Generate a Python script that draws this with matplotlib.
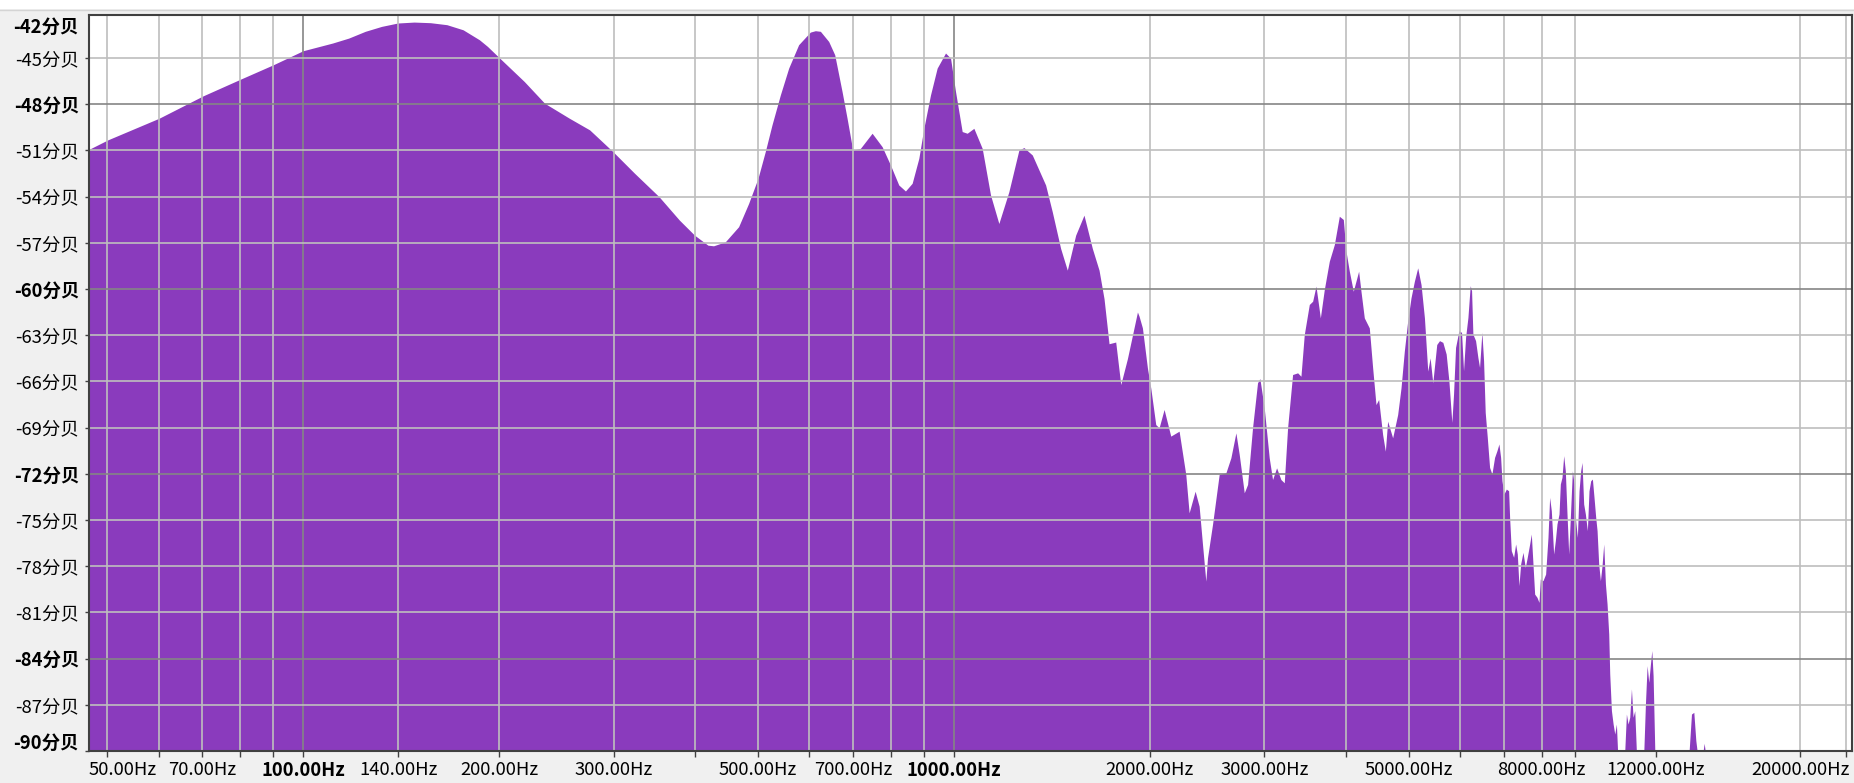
import matplotlib
matplotlib.use('Agg')
import matplotlib.pyplot as plt
from matplotlib.lines import Line2D
from matplotlib.ticker import NullLocator

# 频谱数据 (频率 Hz, 电平 dB)
freq_hz = [
    46.9, 50.1, 60.1, 70.2, 80.1, 90.0, 100, 111.0, 117.5, 124.6, 132.0, 139.8,
    148.1, 156.9, 166.3, 176.1, 186.6, 192.0,
    200, 218.7, 235.0, 256.4, 275.6, 299.2, 323.1, 352.3, 378.6, 399.5, 418.9,
    427.3, 445.4, 466.9, 483.7, 500, 513.1, 525.4, 541.2, 557.4, 577.4, 591.2,
    601.8, 612.6, 623.6, 642.2, 656.0, 673.3, 685.3, 699.2, 718.5, 748.8, 775.8,
    799.0, 822.9, 842.6, 862.8, 883.4, 899.2, 920.7, 942.6, 970.9, 988.3, 1005.9,
    1029.9, 1048.3, 1073.4, 1105.5, 1138.6, 1172.6, 1214.8, 1258.8, 1281.4,
    1319.8, 1383.6, 1416.6, 1459.1, 1494.0, 1538.8, 1584.8, 1632.3, 1671.5,
    1701.3, 1731.8, 1773.1, 1805, 1848.0, 1914.8,
    1925.8, 1948.8, 1983.5, 2007.1, 2043.0, 2067.2, 2104.2, 2154.4, 2219.0,
    2272.0, 2299.0, 2348.4, 2381.9, 2410.6, 2439.0, 2453.6, 2497.3, 2557.0,
    2618.2, 2665.0, 2712.8, 2745.0, 2794.2, 2827.4, 2877.4, 2928.6, 2953.0,
    2998.8, 3052.4, 3088.6, 3133.0, 3181.2, 3219.2, 3257.4, 3315.6, 3375.0,
    3415.0, 3455.6, 3517.4, 3559.4, 3601.6, 3657.6, 3709.2, 3775.6, 3843.2,
    3911.8, 3967.4, 4005.0, 4052.6, 4110.0, 4188.2, 4223.2, 4273.2, 4349.6,
    4401.4, 4453.6, 4495.8, 4559.6, 4603.6, 4641.0, 4724.0, 4808.6, 4866.0,
    4923.4, 4982.0, 5041.0, 5101.6, 5162.2, 5223.4, 5286.4, 5349.0, 5393.6,
    5444.8, 5521.8,
    5576, 5642, 5709, 5764, 5798, 5825, 5860, 5902, 5972, 6028, 6071, 6115,
    6166, 6216, 6246, 6275, 6335, 6387, 6425, 6478, 6517, 6555, 6603, 6657,
    6712, 6776, 6832, 6881, 6922, 6955, 7004, 7063, 7121, 7146, 7188, 7248,
    7300, 7343, 7386, 7430, 7492, 7553, 7598, 7671, 7716, 7762, 7808, 7873,
    7928, 7966, 8041, 8117, 8185, 8233, 8282, 8351, 8401, 8450, 8511, 8551,
    8601, 8653, 8703, 8755, 8808, 8859, 8923, 8976, 9028, 9082, 9136, 9189,
    9233, 9287, 9343, 9409, 9464, 9521, 9578, 9633, 9691, 9738, 9794, 9853,
    9910, 9970, 10030, 10088, 10148, 10184, 10245, 10307, 10367, 10427, 10470,
    10740, 10803, 10866, 10931, 10997, 11060, 11127, 11190, 11490, 11555,
    11624, 11692, 11762, 11819, 11873, 11945, 13487, 13600, 13713, 13811,
    13874, 14172, 14224, 14277, 24000,
]
level_db = [
    -50.92, -50.31, -48.90, -47.45, -46.37, -45.43, -44.52, -44.02, -43.70,
    -43.26, -42.94, -42.72, -42.66, -42.70, -42.83, -43.16, -43.81, -44.24,
    -44.96, -46.52, -47.93, -48.90, -49.66, -51.07,
    -52.48, -54.00, -55.52, -56.50, -57.15,
    -57.19, -56.93, -55.95, -54.44, -52.81, -51.07, -49.34, -47.39, -45.65,
    -44.13, -43.66, -43.31, -43.22, -43.26, -43.92, -44.78, -47.17, -48.90,
    -50.97, -50.86, -49.88, -50.75, -51.94, -53.24, -53.63, -53.13, -51.51,
    -49.56, -47.39, -45.65, -44.67, -45.00, -47.17, -49.77, -49.88, -49.56,
    -50.86, -53.89, -55.74, -53.68, -50.97, -50.81, -51.29, -53.24, -54.98,
    -57.36, -58.77, -56.50, -55.20, -57.36, -58.77, -60.62, -63.55, -63.44,
    -66.2, -64.52, -61.49,
    -61.76, -62.52, -65.12, -66.42, -68.80, -69.01, -67.82, -69.55, -69.23,
    -72.04, -74.53, -73.13, -74.10, -76.59, -78.97, -77.45, -75.29, -72.04,
    -71.94, -70.96, -69.34, -70.74, -73.23, -72.69, -69.01, -66.09, -65.81,
    -67.71, -70.96, -72.37, -71.61, -72.37, -72.58, -69.01, -65.55, -65.44,
    -65.66, -62.95, -61.00, -60.79, -59.81, -61.87, -60.03, -58.19, -57.11,
    -55.27, -55.48, -57.54, -58.84, -60.14, -58.84, -60.14, -61.87, -62.52,
    -65.12, -67.50, -67.17, -69.45, -70.53, -68.58, -69.66, -68.15, -66.42,
    -64.03, -62.09, -60.57, -59.49, -58.62, -59.71, -61.87, -65.33, -64.47,
    -66.09, -63.60,
    -63.35, -63.46, -64.22, -65.95, -67.47, -68.66, -66.82, -63.79, -62.71,
    -62.81, -65.30, -63.14, -61.84, -59.78, -60.11, -62.92, -63.35, -64.44,
    -65.09, -62.81, -64.65, -68.01, -69.63, -71.58, -72.01, -70.93, -70.50,
    -70.06, -70.93, -72.45, -73.31, -72.99, -73.10, -74.83, -76.99, -77.42,
    -76.56, -77.21, -79.26, -77.86, -77.10, -78.07, -77.53, -76.56, -75.91,
    -77.86, -79.81, -80.02, -80.35, -78.83, -78.94, -78.51, -76.13, -73.53,
    -74.39, -77.21, -76.34, -75.26, -74.61, -72.66, -72.23, -70.82, -71.80,
    -74.61, -77.21, -74.83, -71.80, -72.66, -75.04, -76.13, -73.10, -71.80,
    -71.26, -73.96, -74.61, -75.69, -73.10, -72.45, -72.34, -73.53, -74.83,
    -75.69, -77.86, -78.94, -77.97, -76.56, -79.16, -80.45, -82.40, -85.00,
    -87.38, -88.25, -88.90, -88.25, -90.0,
    -90.0, -87.60, -88.25, -87.81, -85.97, -87.81, -87.38, -90.0, -90.0,
    -86.95, -84.46, -85.54, -84.35, -83.48, -85.11, -90.0, -90.0, -87.60,
    -87.49, -89.33, -90.0, -90.0, -89.5, -90.0, -90.0,
]

# 坐标轴刻度
db_ticks = [-87, -84, -81, -78, -75, -72, -69, -66, -63, -60, -57, -54, -51, -48, -45]
db_bold = [-48, -60, -72, -84]
hz_labels = [50, 70, 100, 140, 200, 300, 500, 700, 1000, 2000, 3000, 5000, 8000, 12000, 20000]
hz_bold = [100, 1000]
hz_grid = [50, 60, 70, 80, 90, 100, 140, 200, 300, 400, 500, 600, 700, 800, 900,
           1000, 2000, 3000, 4000, 5000, 6000, 7000, 8000, 9000, 20000, 23500]

FILL = '#8a3bbd'
GRID = '#bebebe'
GRID_MAJOR = '#858585'
FRAME = '#404040'
FONT = ['Noto Sans CJK SC', 'DejaVu Sans']
FS = 13.3

plt.rcParams['font.family'] = FONT

fig = plt.figure(figsize=(18.54, 7.83), dpi=100, facecolor='#f0f0f0')
# 顶部白条
fig.patches.append(plt.Rectangle((0, 1 - 9 / 783), 1, 9 / 783, transform=fig.transFigure,
                                 facecolor='white', edgecolor='none'))
fig.lines.append(Line2D([0, 1], [1 - 9.5 / 783] * 2, transform=fig.transFigure,
                        color='#d4d4d4', lw=1))

ax = fig.add_axes([89 / 1854, 1 - 751 / 783, (1852 - 89) / 1854, (751 - 15) / 783])
ax.set_facecolor('white')
ax.set_xscale('log')
ax.set_xlim(46.875, 24000)
ax.set_ylim(-90, -42.2)

ax.fill_between(freq_hz, level_db, -90, color=FILL, lw=0, zorder=1)

# 网格
for f in hz_grid:
    ax.axvline(f, color=GRID_MAJOR if f in hz_bold else GRID, lw=1.2, zorder=2)
for d in db_ticks:
    ax.axhline(d, color=GRID_MAJOR if d in db_bold else GRID, lw=1.2, zorder=2)

for s in ax.spines.values():
    s.set_color(FRAME)
    s.set_linewidth(1.5)
    s.set_zorder(3)

# y 轴
ax.set_yticks(db_ticks + [-90])
ax.set_yticklabels([f'{d}分贝' for d in db_ticks] + [''])
ax.tick_params(axis='y', length=3, width=1, color=FRAME, pad=4, labelsize=FS)
for lab, d in zip(ax.get_yticklabels(), db_ticks):
    if d in db_bold:
        lab.set_fontweight('bold')
ax.annotate('-42分贝', xy=(0, 1), xycoords='axes fraction', xytext=(-10, -3),
            textcoords='offset pixels', ha='right', va='top', fontsize=FS,
            fontweight='bold')
ax.annotate('-90分贝', xy=(0, 0), xycoords='axes fraction', xytext=(-10, 2),
            textcoords='offset pixels', ha='right', va='baseline', fontsize=FS,
            fontweight='bold')

# x 轴
x_ticks = sorted(set(hz_grid + hz_labels))
ax.xaxis.set_minor_locator(NullLocator())
ax.set_xticks(x_ticks)
ax.set_xticklabels([f'{f:.2f}Hz' if (f in hz_labels and f != 50) else '' for f in x_ticks])
ax.tick_params(axis='x', length=4, width=1, color=FRAME, pad=3, labelsize=FS)
for lab, f in zip(ax.get_xticklabels(), x_ticks):
    if f in hz_bold:
        lab.set_fontweight('bold')
ax.annotate('50.00Hz', xy=(0, 0), xycoords='axes fraction', xytext=(0, -(4 + 3) * 100 / 72),
            textcoords='offset pixels', ha='left', va='top', fontsize=FS)

fig.savefig('out.png', dpi=100, facecolor=fig.get_facecolor())
